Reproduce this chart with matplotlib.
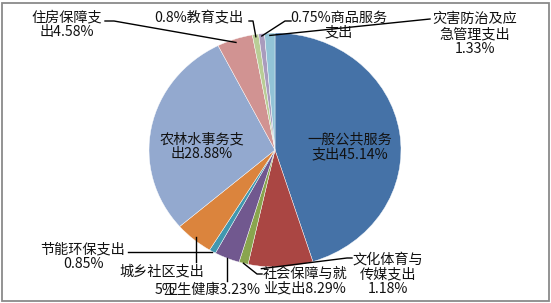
import matplotlib
matplotlib.use("Agg")
import matplotlib.pyplot as plt
import numpy as np
from matplotlib.lines import Line2D
from matplotlib.patches import Rectangle

plt.rcParams['font.family'] = ['Noto Sans CJK SC', 'DejaVu Sans']

# ---- data (clockwise from 12 o'clock) ----
categories = ["一般公共服务支出", "社会保障与就业支出", "文化体育与传媒支出", "卫生健康支出",
              "节能环保支出", "城乡社区支出", "农林水事务支出", "住房保障支出",
              "教育支出", "商品服务支出", "灾害防治及应急管理支出"]
values = [45.14, 8.29, 1.18, 3.23, 0.85, 4.97, 28.88, 4.58, 0.8, 0.75, 1.33]
colors = ["#4572A7", "#AA4643", "#89A54E", "#71588F", "#4198AF", "#DB843D",
          "#93A9CF", "#D19392", "#B9CD96", "#A99BBD", "#92C3D6"]

W, H = 551, 303
fig = plt.figure(figsize=(W / 100, H / 100), dpi=100)
fig.patch.set_facecolor("white")

# pie axes (slightly elliptical, like the reference)
px_left, px_right, px_top, px_bot = 149, 401, 33, 267
ax = fig.add_axes([px_left / W, (H - px_bot) / H, (px_right - px_left) / W, (px_bot - px_top) / H])
wedges, _ = ax.pie(values, colors=colors, startangle=90, counterclock=False,
                   wedgeprops=dict(edgecolor="white", linewidth=0.3))
ax.set_aspect("auto")
ax.set_xlim(-1, 1)
ax.set_ylim(-1, 1)
ax.axis("off")

# cumulative angles (clockwise from top)
tot = sum(values)
cum = np.concatenate([[0], np.cumsum(values)]) / tot * 360.0


def anchor(i, frac=0.5, r=0.98):
    """point on wedge i (data coords -> pixel coords from top-left)"""
    a = np.deg2rad(cum[i] + frac * (cum[i + 1] - cum[i]))
    x, y = r * np.sin(a), r * np.cos(a)
    dx, dy = ax.transData.transform((x, y))
    return dx, H - dy


def fig_xy(x, y):
    return x / W, (H - y) / H


FS = 10.2


def label(text, x, y, ha="center"):
    fx, fy = fig_xy(x, y)
    fig.text(fx, fy, text, ha=ha, va="center", multialignment="center",
             fontsize=FS, color="#111111", linespacing=1.05)


def leader(points):
    xs = [p[0] / W for p in points]
    ys = [(H - p[1]) / H for p in points]
    fig.add_artist(Line2D(xs, ys, color="black", lw=1.0, transform=fig.transFigure))


v = values
# labels
label("住房保障支\n出{}%".format(v[7]), 67, 25)
label("{}%教育支出".format(v[8]), 199, 18)
label("{}%商品服务\n支出".format(v[9]), 339, 25)
label("灾害防治及应\n急管理支出\n{}%".format(v[10]), 475, 34)
label("一般公共服务\n支出{}%".format(v[0]), 350, 147)
label("农林水事务支\n出{}%".format(v[6]), 202, 147)
label("节能环保支出\n{}%".format(v[4]), 83, 257)
label("城乡社区支出", 162, 271)
label("5%", 155, 290, ha="left")
label("卫生健康{}%".format(v[3]), 163, 290, ha="left")
label("社会保障与就\n业支出{}%".format(v[1]), 305, 281)
label("文化体育与\n传媒支出\n{}%".format(v[2]), 388, 274)

# leader lines
leader([(105, 21), (114, 21), anchor(7, 0.5, 0.97)])
leader([(249, 21), (253, 21), anchor(8, 0.5, 0.98)])
leader([(291, 21), (285, 21), anchor(9, 0.5, 0.98)])
leader([(430, 19), anchor(10, 0.5, 0.98)])
a = anchor(4, 0.5, 1.0)
leader([(128, a[1]), a])
a = anchor(5, 0.5, 0.97)
leader([(a[0], 262), a])
a = anchor(3, 0.5, 1.0)
leader([(a[0], 281), a])
leader([(262, 274), (257, 274), anchor(2, 0.5, 1.0)])
leader([(352, 258), (347, 258), anchor(1, 0.79, 1.02)])

# outer frame
fig.add_artist(Rectangle((1.5 / W, 2.5 / H), 547 / W, 298 / H, transform=fig.transFigure,
                         fill=False, edgecolor="#8a8a8a", lw=1.3))

fig.savefig("out.png", dpi=100)
